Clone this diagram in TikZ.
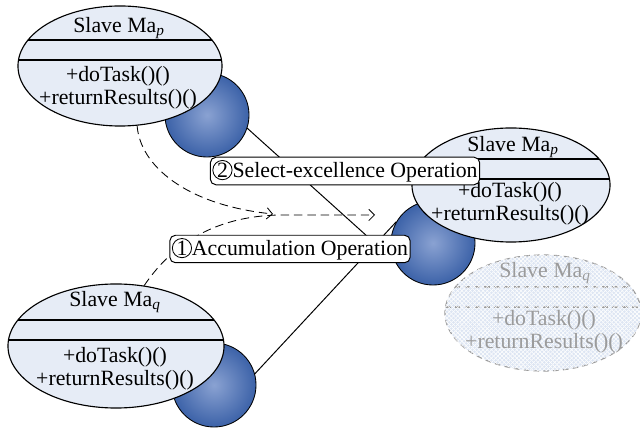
\documentclass[tikz,border=0pt]{standalone}
\usepackage{fontspec}
\setmainfont{Liberation Serif}
\usepackage{xcolor}
\usetikzlibrary{arrows.meta, shapes.geometric, patterns, backgrounds}
\definecolor{classfill}{RGB}{230,236,246}
\definecolor{ghostfill}{RGB}{221,229,243}
\definecolor{ghost}{RGB}{155,155,155}
\definecolor{ballin}{RGB}{138,162,210}
\definecolor{ballout}{RGB}{60,98,168}
\newcommand{\opnum}[1]{\tikz[baseline=(num.base)]\node[circle,draw,line width=0.6pt,inner sep=0.3pt](num){#1};}

\tikzset{
  classbox/.style={ellipse, draw, line width=0.8pt, fill=classfill, inner sep=0pt},
  seplines/.style={path picture={
    \draw[#1] ([yshift=0.65cm]path picture bounding box.west) -- ([yshift=0.65cm]path picture bounding box.east);
    \draw[#1] ([yshift=0.15cm]path picture bounding box.west) -- ([yshift=0.15cm]path picture bounding box.east);}},
  ball/.style={circle, draw, line width=0.6pt, minimum size=2.1cm, inner color=ballin, outer color=ballout},
  opbox/.style={draw, line width=0.7pt, rounded corners=4pt, fill=white, inner xsep=1.5pt, inner ysep=2pt},
  flow/.style={dash pattern=on 6pt off 3.5pt, line width=0.6pt, -{Straight Barb[length=4pt,width=8pt]}},
}

\begin{document}
\begin{tikzpicture}[x=0.025cm, y=-0.025cm, font=\fontsize{15.5}{16.5}\selectfont]
  \useasboundingbox (0,0) rectangle (640,432);

  % lollipops
  \node[ball] (ballA) at (207,115) {};
  \node[ball] (ballB) at (433,243) {};
  \node[ball] (ballC) at (214,385) {};

  % classes
  \node[classbox, seplines={line width=1.2pt}, minimum width=5.1cm, minimum height=3cm] (mpA) at (120,66) {};
  \node (mpAname) at (119,28) {Slave Ma\textsubscript{\textit{p}}};
  \node[align=center] (mpAops) at (118,88) {+doTask()()\\+returnResults()()};

  \node[classbox, seplines={line width=1.2pt}, minimum width=4.95cm, minimum height=2.85cm] (mpB) at (511,185) {};
  \node (mpBname) at (513,147) {Slave Ma\textsubscript{\textit{p}}};
  \node[align=center] (mpBops) at (510,204) {+doTask()()\\+returnResults()()};

  \node[classbox, seplines={line width=1.2pt}, minimum width=5.4cm, minimum height=3.1cm] (mqC) at (116,346) {};
  \node (mqCname) at (115,302) {Slave Ma\textsubscript{\textit{q}}};
  \node[align=center] (mqCops) at (115,369) {+doTask()()\\+returnResults()()};

  \node[classbox, draw=ghost, dash pattern=on 4pt off 3pt, fill=ghostfill,
        postaction={pattern=north east lines, pattern color=white},
        postaction={pattern=north west lines, pattern color=white},
        seplines={ghost, line width=0.8pt, dash pattern=on 4pt off 3pt},
        minimum width=4.9cm, minimum height=2.9cm] (mqD) at (543,313) {};
  \node[text=ghost] (mqDname) at (545,273) {Slave Ma\textsubscript{\textit{q}}};
  \node[text=ghost, align=center] (mqDops) at (544,332) {+doTask()()\\+returnResults()()};

  % links
  \coordinate (jointA) at (237,119);
  \coordinate (jointC) at (237,393);
  \begin{scope}[on background layer]
    \draw[line width=0.7pt] (jointA) -- (ballB.205);
    \draw[line width=0.7pt] (jointC) -- (ballB.150);
  \end{scope}

  % operations
  \coordinate (tipP) at (273,214);
  \coordinate (tipQ) at (375,215);
  \draw[flow] (mpA.-74) .. controls (140,165) and (185,205) .. (tipP);
  \draw[flow] (mqC.65) .. controls (175,240) and (220,216) .. (280,215) -- (tipQ);

  \node[opbox] (selop) at (345,171) {\opnum{2}Select-excellence Operation};
  \node[opbox] (accop) at (290,249) {\opnum{1}Accumulation Operation};
\end{tikzpicture}
\end{document}
